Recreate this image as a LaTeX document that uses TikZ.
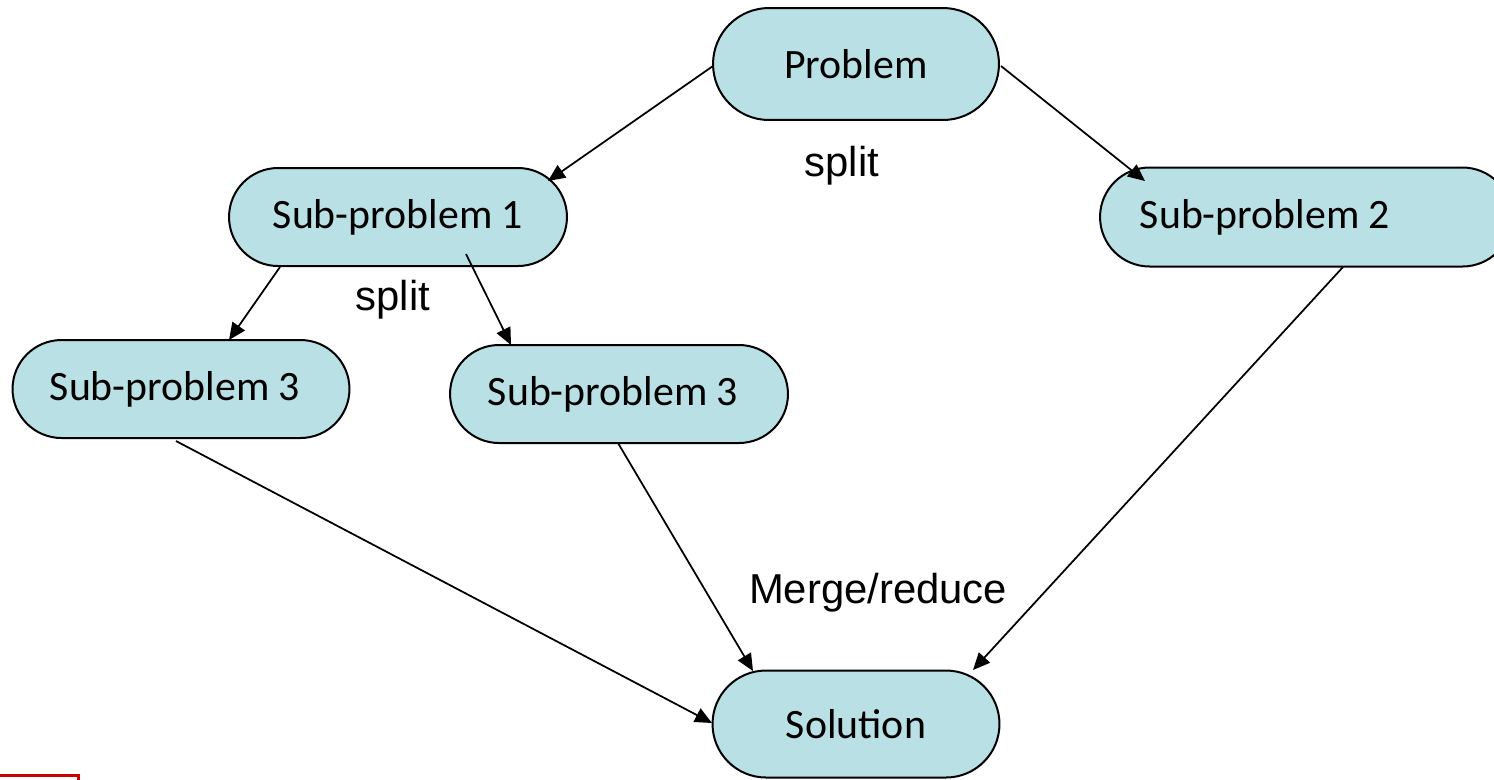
\documentclass[tikz,border=0pt]{standalone}
\usepackage{fontspec}
\setmainfont{Carlito}
\newfontfamily\labelfont{Liberation Sans}
\usetikzlibrary{shapes.misc,arrows.meta,calc}
\definecolor{boxfill}{RGB}{185,224,228}
\definecolor{markred}{RGB}{204,0,0}
\begin{document}
\begin{tikzpicture}[x=0.02cm,y=-0.02cm,
  proc/.style={rounded rectangle, draw=black, line width=0.04cm, fill=boxfill,
    inner sep=0pt, minimum height=1.96cm,
    font=\fontsize{23.8}{28}\selectfont},
  tag/.style={inner sep=0pt, font=\labelfont\fontsize{23.8}{28}\selectfont},
  link/.style={line width=0.035cm, -{Triangle[length=0.34cm,width=0.3cm]}}]
\useasboundingbox (0,0) rectangle (1494,779);
\clip (0,0) rectangle (1494,779);

% process boxes
\node[proc, minimum width=5.72cm, minimum height=2.24cm] (prob) at (856,64) {Problem};
\node[proc, minimum width=6.76cm] (s1) at (398,217) {Sub-problem 1};
\node[proc, minimum width=8.24cm, minimum height=1.98cm,
      label={[font=\fontsize{23.8}{28}\selectfont, xshift=-0.82cm]center:Sub-problem 2}] (s2) at (1306,217) {};
\node[proc, minimum width=6.74cm] (s3a) at (181,389) {\hspace{-0.24cm}Sub-problem 3};
\node[proc, minimum width=6.76cm] (s3b) at (619,394) {\hspace{-0.24cm}Sub-problem 3};
\node[proc, minimum width=5.74cm, minimum height=2.14cm] (sol) at (856,724) {Solution};

% step labels
\node[tag] (split1) at (842,166) {split};
\node[tag] (split2) at (393,300) {split};
\node[tag] (merge) at (878,593) {Merge/reduce};

% splitting
\draw[link] ($(prob)+(-143,2)$) -- ($(s1)+(150,-36)$);
\draw[link] ($(prob)+(145,2)$) -- ($(s2)+(-161,-36)$);
\draw[link] ($(s1)+(-118,50)$) -- ($(s3a)+(48,-49)$);
\draw[link] ($(s1)+(68,37)$) -- ($(s3b)+(-108,-49)$);

% merging
\draw[link] ($(s3a)+(-5,52)$) -- ($(sol)+(-144,-1)$);
\draw[link] ($(s3b)+(-1,49)$) -- ($(sol)+(-103,-53)$);
\draw[link] ($(s2)+(37,50)$) -- ($(sol)+(117,-54)$);

% red frame at the lower left corner
\draw[markred, line width=0.06cm] (-20,775.5) rectangle (78,820);
\end{tikzpicture}
\end{document}
